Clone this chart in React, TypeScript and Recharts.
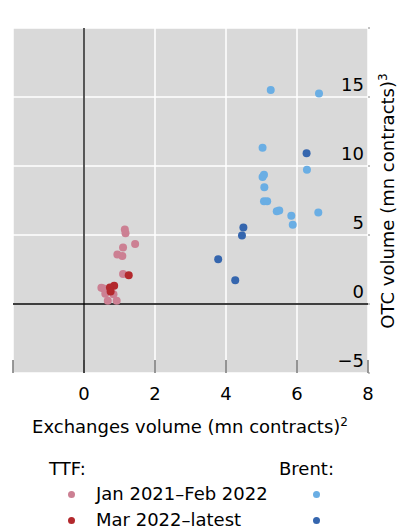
import { ScatterChart, Scatter, XAxis, YAxis, CartesianGrid, ReferenceLine } from "recharts";

const xTicks = [-2, 0, 2, 4, 6, 8];
const yTicks = [-5, 0, 5, 10, 15, 20];

// [exchanges, otc]
const ttfEarly = [
  [1.15, 5.4], [1.17, 5.12], [1.44, 4.35], [1.1, 4.1], [0.94, 3.58], [1.08, 3.48],
  [1.1, 2.18], [0.49, 1.18], [0.55, 1.12], [0.6, 0.74], [0.83, 0.7], [0.67, 0.24],
  [0.92, 0.24], [0.7, 1.0],
];
const ttfLate = [[1.26, 2.09], [0.85, 1.32], [0.73, 1.2], [0.75, 0.91]];
const brentEarly = [
  [5.26, 15.5], [6.62, 15.26], [5.03, 11.32], [6.28, 9.73], [5.07, 9.37], [5.03, 9.2],
  [5.08, 8.46], [5.07, 7.45], [5.16, 7.45], [5.43, 6.73], [5.5, 6.78], [5.84, 6.39],
  [6.6, 6.63], [5.88, 5.74],
];
const brentLate = [[6.27, 10.93], [4.49, 5.55], [4.45, 4.97], [3.78, 3.24], [4.26, 1.73]];

const toPoints = (arr: number[][]) => arr.map(([x, y]) => ({ x, y }));

const PINK = "#cc8093";
const RED = "#b3292d";
const LIGHT_BLUE = "#6aaee4";
const DARK_BLUE = "#3566ae";
const FONT = "'DejaVu Sans', sans-serif";
const FS = 18;

const fmt = (v: number) => (v < 0 ? `−${-v}` : `${v}`);

const dot = (color: string) => (props: any) => (
  <circle cx={props.cx} cy={props.cy} r={4} fill={color} />
);

const XTick = (props: any) => {
  const { x, y, payload } = props;
  return (
    <g>
      <line x1={x} x2={x} y1={y - 13} y2={y} stroke="#333" strokeWidth={1} />
      {payload.value !== -2 && (
        <text x={x} y={y + 27} textAnchor="middle" fontSize={FS} fontFamily={FONT} fill="#000">
          {fmt(payload.value)}
        </text>
      )}
    </g>
  );
};

const YTick = (props: any) => {
  const { x, y, payload } = props;
  return (
    <g>
      <line x1={x} x2={x + 2} y1={y} y2={y} stroke="#888" />
      {payload.value !== 20 && (
        <text x={x - 4} y={y - 6} textAnchor="end" fontSize={FS} fontFamily={FONT} fill="#000">
          {fmt(payload.value)}
        </text>
      )}
    </g>
  );
};

export default function App() {
  return (
    <div style={{ position: "absolute", left: 0, top: 0, width: 400, height: 531, fontFamily: FONT, background: "#fff" }}>
      <ScatterChart width={400} height={531} margin={{ top: 28, right: 0, bottom: 118, left: 13 }}>
        <CartesianGrid fill="#d9d9d9" stroke="#fff" strokeWidth={1.5} />
        <XAxis
          type="number"
          dataKey="x"
          domain={[-2, 8]}
          ticks={xTicks}
          height={40}
          axisLine={false}
          tickLine={false}
          tickSize={0}
          tickMargin={0}
          tick={<XTick />}
          interval={0}
        />
        <YAxis
          type="number"
          dataKey="y"
          orientation="right"
          domain={[-5, 20]}
          ticks={yTicks}
          width={32}
          axisLine={false}
          tickLine={false}
          tickSize={0}
          tickMargin={0}
          tick={<YTick />}
          interval={0}
        />
        <ReferenceLine x={0} stroke="#000" strokeWidth={1.3} />
        <ReferenceLine y={0} stroke="#000" strokeWidth={1.3} />
        <Scatter data={toPoints(ttfEarly)} shape={dot(PINK)} isAnimationActive={false} />
        <Scatter data={toPoints(ttfLate)} shape={dot(RED)} isAnimationActive={false} />
        <Scatter data={toPoints(brentEarly)} shape={dot(LIGHT_BLUE)} isAnimationActive={false} />
        <Scatter data={toPoints(brentLate)} shape={dot(DARK_BLUE)} isAnimationActive={false} />
      </ScatterChart>

      <div
        style={{
          position: "absolute", left: 388, top: 201, transform: "translate(-50%, -50%) rotate(-90deg)",
          whiteSpace: "nowrap", fontSize: FS, lineHeight: "18px",
        }}
      >
        OTC volume (mn contracts)<sup style={{ fontSize: 12, lineHeight: 0 }}>3</sup>
      </div>
      <div
        style={{
          position: "absolute", left: 190, top: 427, transform: "translate(-50%, -50%)",
          whiteSpace: "nowrap", fontSize: FS, lineHeight: "22px",
        }}
      >
        Exchanges volume (mn contracts)<sup style={{ fontSize: 12, lineHeight: 0 }}>2</sup>
      </div>

      <div style={{ position: "absolute", left: 49, top: 458, fontSize: FS, lineHeight: "22px" }}>TTF:</div>
      <div style={{ position: "absolute", left: 279, top: 458, fontSize: FS, lineHeight: "22px" }}>Brent:</div>
      {[
        { label: "Jan 2021–Feb 2022", ttf: PINK, brent: LIGHT_BLUE, top: 483 },
        { label: "Mar 2022–latest", ttf: RED, brent: DARK_BLUE, top: 509 },
      ].map((r) => (
        <div key={r.label}>
          <div style={{ position: "absolute", left: 67.5, top: r.top + 7.5, width: 7, height: 7, borderRadius: "50%", background: r.ttf }} />
          <div style={{ position: "absolute", left: 96, top: r.top, fontSize: FS, lineHeight: "22px", whiteSpace: "nowrap" }}>{r.label}</div>
          <div style={{ position: "absolute", left: 312.5, top: r.top + 7.5, width: 7, height: 7, borderRadius: "50%", background: r.brent }} />
        </div>
      ))}
    </div>
  );
}
